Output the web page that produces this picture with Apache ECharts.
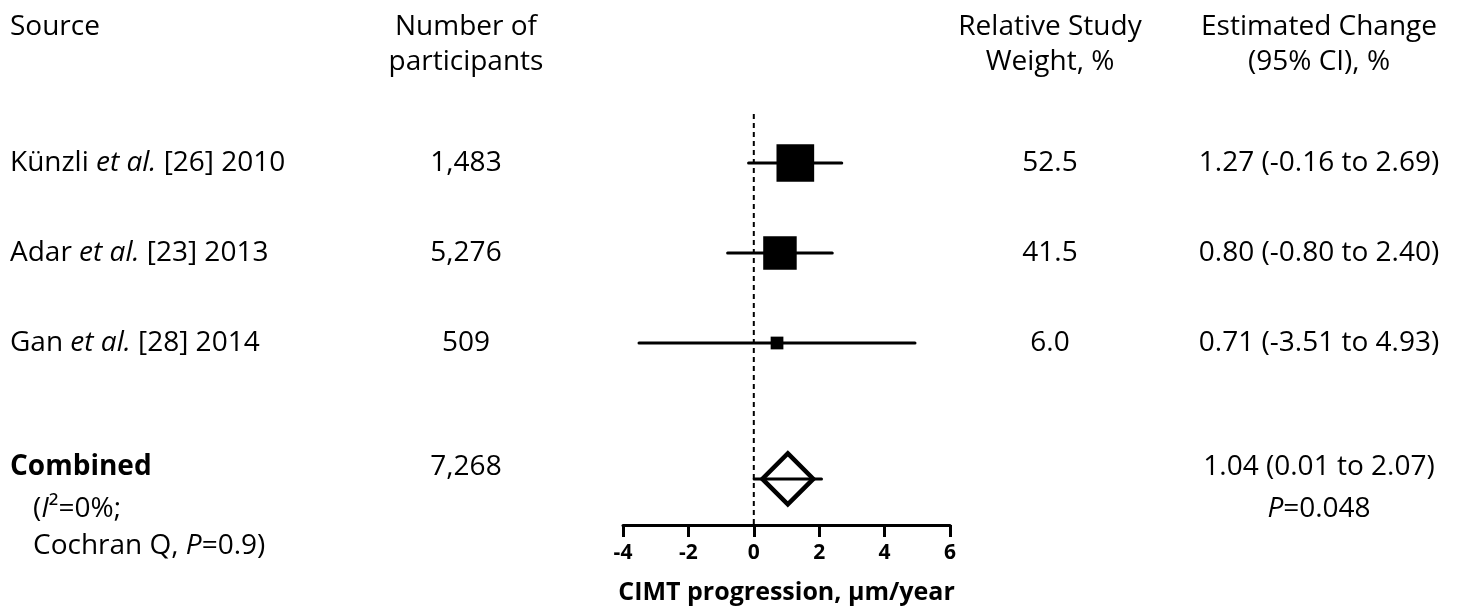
<!DOCTYPE html>
<html><head><meta charset="utf-8">
<script src="https://cdn.jsdelivr.net/npm/echarts@6/dist/echarts.min.js"></script>
<style>html,body{margin:0;padding:0;background:#fff}#c{width:1458px;height:610px}</style>
</head><body><div id="c"></div>
<script>
// ---- data ----
const sources = ['Künzli {i|et al.} [26] 2010', 'Adar {i|et al.} [23] 2013', 'Gan {i|et al.} [28] 2014'];
const participants = ['1,483', '5,276', '509'];
const estimates = [1.27, 0.80, 0.71];
const lower = [-0.16, -0.80, -3.51];
const upper = [2.69, 2.40, 4.93];
const weights = [52.5, 41.5, 6.0];
const combinedLabel = 'Combined';
const combinedParticipants = '7,268';
const combinedEstimate = [1.04];
const combinedLower = [0.01];
const combinedUpper = [2.07];
const heterogeneity = ['({i|I}²=0%;', 'Cochran Q, {i|P}=0.9)'];
const combinedP = '{i|P}=0.048';
const headers = ['Source', 'Number of\nparticipants', 'Relative Study\nWeight, %', 'Estimated Change\n(95% CI), %'];
const xTicks = [-4, -2, 0, 2, 4, 6];
const axisTitle = 'CIMT progression, µm/year';

// ---- layout ----
const FONT = 'Open Sans';
const FS = 28;
const ROW0 = 73, ROWH = 90;          // pixel of row v: ROW0 + ROWH*v
const rowPos = [1, 2, 3];
const combinedPos = 4.51;
const plotTop = 114, axisY = 525, H = 610, W = 1458;
const plotLeft = 623, plotRight = 950;
const v = px => (px - ROW0) / ROWH;
const colSource = 10, colN = 466, colW = 1050, colE = 1319;
const fmtCI = i => estimates[i].toFixed(2) + ' (' + lower[i].toFixed(2) + ' to ' + upper[i].toFixed(2) + ')';
const rich = {
  i: { fontFamily: FONT, fontSize: FS, fontStyle: 'italic', color: '#000', textBorderWidth: 0 }
};
function textPt(x, y, text, align, extra) {
  return {
    value: [x, y],
    label: Object.assign({
      show: true, position: 'inside', formatter: text, align: align, verticalAlign: 'middle',
      fontFamily: FONT, fontSize: FS, color: '#000', lineHeight: 35, rich: rich,
      textBorderWidth: 0, textBorderColor: 'transparent'
    }, extra || {})
  };
}
const texts = [];
texts.push(textPt(colSource, v(27), headers[0], 'left'));
texts.push(textPt(colN, v(44.5), headers[1], 'center'));
texts.push(textPt(colW, v(44.5), headers[2], 'center'));
texts.push(textPt(colE, v(44.5), headers[3], 'center'));
rowPos.forEach((p, i) => {
  texts.push(textPt(colSource, p, sources[i], 'left'));
  texts.push(textPt(colN, p, participants[i], 'center'));
  texts.push(textPt(colW, p, weights[i].toFixed(1), 'center'));
  texts.push(textPt(colE, p, fmtCI(i), 'center'));
});
const combRow = v(467);
texts.push(textPt(colSource, combRow, combinedLabel, 'left', { fontWeight: 'bold' }));
texts.push(textPt(colN, combRow, combinedParticipants, 'center'));
texts.push(textPt(colE, combRow,
  combinedEstimate[0].toFixed(2) + ' (' + combinedLower[0].toFixed(2) + ' to ' + combinedUpper[0].toFixed(2) + ')', 'center'));
texts.push(textPt(33, v(509), heterogeneity[0], 'left'));
texts.push(textPt(33, v(546), heterogeneity[1], 'left'));
texts.push(textPt(colE, v(509), combinedP, 'center'));

const ciData = rowPos.map((p, i) => [p, lower[i], upper[i]]);
ciData.push([combinedPos, combinedLower[0], combinedUpper[0]]);

const chart = echarts.init(document.getElementById('c'), null, { renderer: 'canvas' });
chart.setOption({
  animation: false,
  backgroundColor: '#fff',
  grid: [
    { left: plotLeft, width: plotRight - plotLeft, top: plotTop, height: axisY - plotTop },
    { left: 0, right: 0, top: 0, bottom: 0 }
  ],
  xAxis: [
    {
      gridIndex: 0, type: 'value', min: xTicks[0], max: xTicks[xTicks.length - 1], interval: 2,
      splitLine: { show: false },
      axisLine: { show: true, onZero: false, lineStyle: { color: '#000', width: 3 } },
      axisTick: { show: true, length: 12, lineStyle: { color: '#000', width: 3 } },
      axisLabel: { color: '#000', fontFamily: FONT, fontSize: 21, fontWeight: 'bold', margin: 18 },
      name: axisTitle, nameLocation: 'middle', nameGap: 55,
      nameTextStyle: { color: '#000', fontFamily: FONT, fontSize: 25, fontWeight: 'bold' }
    },
    { gridIndex: 1, type: 'value', min: 0, max: W, show: false }
  ],
  yAxis: [
    { gridIndex: 0, type: 'value', min: v(plotTop), max: v(axisY), inverse: true, show: false },
    { gridIndex: 1, type: 'value', min: v(0), max: v(H), inverse: true, show: false }
  ],
  series: [
    {
      type: 'line', xAxisIndex: 0, yAxisIndex: 0, symbol: 'none', silent: true,
      data: [[0, v(plotTop)], [0, v(axisY)]],
      lineStyle: { color: '#000', width: 2, type: [5, 4] }, z: 1
    },
    {
      type: 'custom', xAxisIndex: 0, yAxisIndex: 0, data: ciData, z: 5,
      renderItem: function (params, api) {
        const a = api.coord([api.value(1), api.value(0)]);
        const b = api.coord([api.value(2), api.value(0)]);
        return { type: 'line', shape: { x1: a[0], y1: a[1], x2: b[0], y2: b[1] },
          style: { stroke: '#000', lineWidth: 3, lineCap: 'round' } };
      }
    },
    {
      type: 'scatter', xAxisIndex: 0, yAxisIndex: 0, symbol: 'rect', z: 6,
      data: rowPos.map((p, i) => [estimates[i], p, weights[i]]),
      symbolSize: d => 5.2 * Math.sqrt(d[2]),
      itemStyle: { color: '#000', opacity: 1 }
    },
    {
      type: 'scatter', xAxisIndex: 0, yAxisIndex: 0, symbol: 'diamond', z: 4,
      data: [[combinedEstimate[0], combinedPos]],
      symbolSize: 51,
      itemStyle: { color: '#fff', borderColor: '#000', borderWidth: 4.5, opacity: 1 }
    },
    {
      type: 'scatter', xAxisIndex: 1, yAxisIndex: 1, symbolSize: 0, silent: true,
      itemStyle: { color: '#000', opacity: 1 },
      data: texts, z: 10
    }
  ]
});
</script></body></html>
